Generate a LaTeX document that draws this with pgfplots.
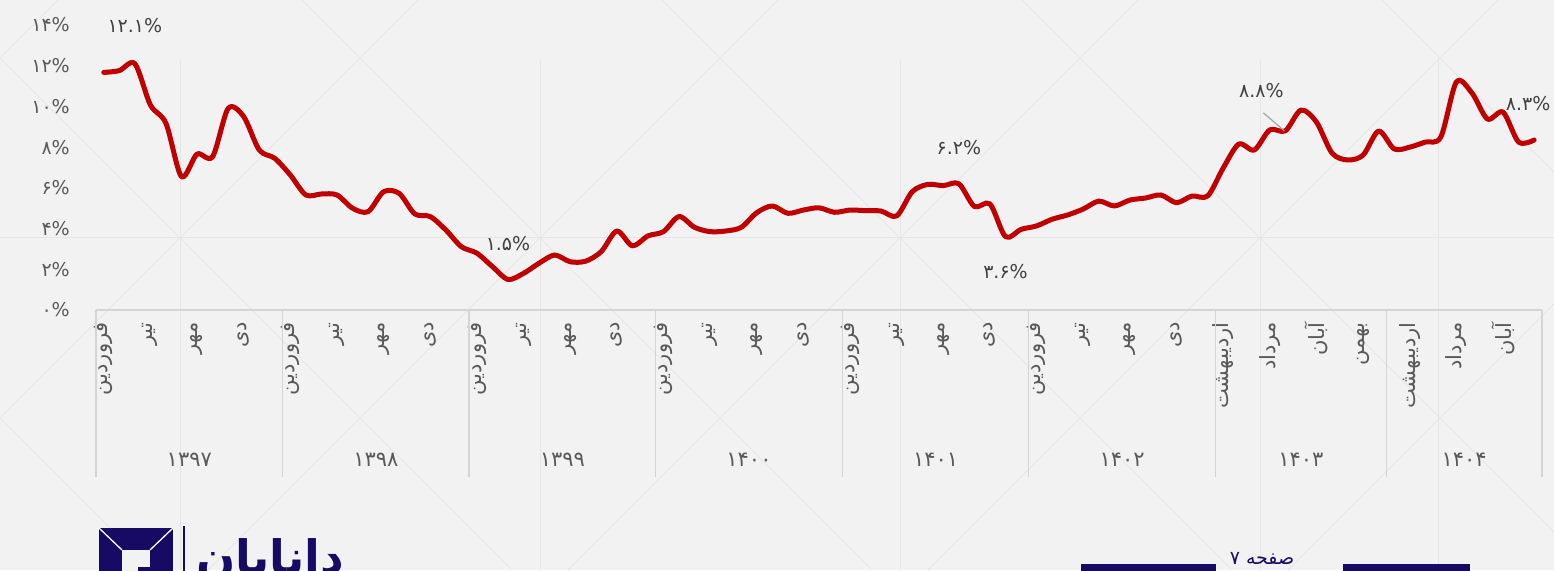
\documentclass[border=0pt]{standalone}
\usepackage{fontspec}
\usepackage{pgfplots}
\pgfplotsset{compat=1.18}
\setmainfont{DejaVu Sans}
\newfontfamily\fa[Script=Arabic]{DejaVu Sans}
\TeXXeTstate=1
\definecolor{bg}{HTML}{F2F2F2}
\definecolor{deco}{HTML}{E6E6E6}
\definecolor{redline}{HTML}{C00000}
\definecolor{navy}{HTML}{160A64}
\definecolor{tickc}{HTML}{595959}
\definecolor{labc}{HTML}{404040}
\definecolor{sepc}{HTML}{D4D4D4}
\newcommand\fs[1]{\fontsize{#1}{#1}\selectfont}
\newcommand\R[1]{\beginR #1\endR}
\begin{document}
\begin{tikzpicture}
\useasboundingbox (0,0) rectangle (1554pt,570pt);
\clip (0,0) rectangle (1554pt,570pt);
\fill[bg] (0,0) rectangle (1554pt,570pt);
\begin{scope}[shift={(0pt,570pt)},x=1pt,y=-1pt]
  \draw[deco, line width=1pt] (0,238) -- (1554,238);
  \foreach \c in {-778,-418,-58,302,662,1022,1382} \draw[deco, line width=1pt] (\c,0) -- ++(570,570);
  \foreach \d in {58,418,778,1138,1498,1858,2218} \draw[deco, line width=1pt] (\d,0) -- ++(-570,570);
  \foreach \v in {180,540,900,1260,1438} \draw[deco, line width=1pt] (\v,60) -- (\v,570);
  % logo
  \fill[navy] (99,528) rectangle (173,572);
  \fill[bg] (122,550) rectangle (150,572);
  \draw[white, line width=1.3pt] (99,528) -- (122,550);
  \draw[white, line width=1.3pt] (173,528) -- (150,550);
  \fill[navy] (138,567) rectangle (163,572);
  \fill[navy] (183.2,526) rectangle (185,572);
  \node[anchor=base west, inner sep=0pt, text=navy, font=\fa\bfseries\fs{46}] at (196,573) {\R{دانایان}};
  % page footer
  \fill[navy] (1081,564) rectangle (1216,572);
  \fill[navy] (1343,564) rectangle (1470,572);
  \node[anchor=base, inner sep=0pt, text=navy, font=\fa\fs{19}] at (1262,564) {\R{صفحه ۷}};
\end{scope}
\begin{axis}[
  at={(96pt,260pt)}, anchor=south west,
  scale only axis, width=1446pt, height=285pt,
  xmin=-0.5, xmax=92.5, ymin=0, ymax=14,
  clip=false,
  axis line style={draw=none},
  tick style={draw=none},
  major tick length=0pt,
  ytick={0,2,...,14},
  yticklabels={۰\%,۲\%,۴\%,۶\%,۸\%,۱۰\%,۱۲\%,۱۴\%},
  yticklabel style={font=\fa\fs{19}, text=tickc, inner sep=0pt, anchor=east},
  yticklabel shift=26pt,
  xtick={0,3,...,90},
  xticklabels={\R{فروردین},\R{تیر},\R{مهر},\R{دی},
               \R{فروردین},\R{تیر},\R{مهر},\R{دی},
               \R{فروردین},\R{تیر},\R{مهر},\R{دی},
               \R{فروردین},\R{تیر},\R{مهر},\R{دی},
               \R{فروردین},\R{تیر},\R{مهر},\R{دی},
               \R{فروردین},\R{تیر},\R{مهر},\R{دی},
               \R{اردیبهشت},\R{مرداد},\R{آبان},\R{بهمن},
               \R{اردیبهشت},\R{مرداد},\R{آبان}},
  xticklabel style={font=\fa\fs{21}, text=tickc, inner sep=0pt, rotate=90, anchor=east},
  xticklabel shift=12pt,
]
% category axis frame
\draw[sepc, line width=1.3pt] (axis cs:-0.5,0) -- (axis cs:92.5,0);
\draw[sepc, line width=1.3pt] (axis cs:-0.5,0) -- ++(0pt,-167pt);
\draw[sepc, line width=1.3pt] (axis cs:11.5,0) -- ++(0pt,-167pt);
\draw[sepc, line width=1.3pt] (axis cs:23.5,0) -- ++(0pt,-167pt);
\draw[sepc, line width=1.3pt] (axis cs:35.5,0) -- ++(0pt,-167pt);
\draw[sepc, line width=1.3pt] (axis cs:47.5,0) -- ++(0pt,-167pt);
\draw[sepc, line width=1.3pt] (axis cs:59.5,0) -- ++(0pt,-167pt);
\draw[sepc, line width=1.3pt] (axis cs:71.5,0) -- ++(0pt,-167pt);
\draw[sepc, line width=1.3pt] (axis cs:82.5,0) -- ++(0pt,-167pt);
\draw[sepc, line width=1.3pt] (axis cs:92.5,0) -- ++(0pt,-167pt);
% year labels
\node[font=\fa\fs{21}, text=tickc, yshift=-150pt] at (axis cs:5.5,0) {۱۳۹۷};
\node[font=\fa\fs{21}, text=tickc, yshift=-150pt] at (axis cs:17.5,0) {۱۳۹۸};
\node[font=\fa\fs{21}, text=tickc, yshift=-150pt] at (axis cs:29.5,0) {۱۳۹۹};
\node[font=\fa\fs{21}, text=tickc, yshift=-150pt] at (axis cs:41.5,0) {۱۴۰۰};
\node[font=\fa\fs{21}, text=tickc, yshift=-150pt] at (axis cs:53.5,0) {۱۴۰۱};
\node[font=\fa\fs{21}, text=tickc, yshift=-150pt] at (axis cs:65.5,0) {۱۴۰۲};
\node[font=\fa\fs{21}, text=tickc, yshift=-150pt] at (axis cs:77,0) {۱۴۰۳};
\node[font=\fa\fs{21}, text=tickc, yshift=-150pt] at (axis cs:87.5,0) {۱۴۰۴};
% series
\addplot[redline, line width=5pt, smooth, line cap=round, line join=round] coordinates {
(0,11.67) (1,11.76) (2,12.1) (3,10.07) (4,9.17) (5,6.55) (6,7.66) (7,7.53) (8,9.9) (9,9.5)
(10,7.86) (11,7.45) (12,6.63) (13,5.65) (14,5.7) (15,5.65) (16,5.0) (17,4.83) (18,5.81) (19,5.73)
(20,4.72) (21,4.59) (22,3.93) (23,3.11) (24,2.79) (25,2.13) (26,1.5) (27,1.8) (28,2.3) (29,2.7)
(30,2.37) (31,2.4) (32,2.87) (33,3.88) (34,3.15) (35,3.64) (36,3.85) (37,4.59) (38,4.06) (39,3.85)
(40,3.88) (41,4.06) (42,4.78) (43,5.11) (44,4.75) (45,4.91) (46,5.02) (47,4.8) (48,4.91) (49,4.88)
(50,4.86) (51,4.62) (52,5.81) (53,6.17) (54,6.11) (55,6.2) (56,5.08) (57,5.21) (58,3.6) (59,3.96)
(60,4.13) (61,4.46) (62,4.67) (63,4.96) (64,5.35) (65,5.11) (66,5.4) (67,5.5) (68,5.65) (69,5.27)
(70,5.6) (71,5.6) (72,6.97) (73,8.15) (74,7.86) (75,8.85) (76,8.8) (77,9.82) (78,9.23) (79,7.71)
(80,7.37) (81,7.61) (82,8.79) (83,7.91) (84,8.0) (85,8.25) (86,8.5) (87,11.2) (88,10.66) (89,9.38)
(90,9.72) (91,8.25) (92,8.35)
};
% data labels
\node[font=\fa\fs{19}, text=labc, yshift=38pt] at (axis cs:2,12.1) {۱۲.۱\%};
\node[font=\fa\fs{19}, text=labc, yshift=36pt] at (axis cs:26,1.5) {۱.۵\%};
\node[font=\fa\fs{19}, text=labc, yshift=36pt] at (axis cs:55,6.2) {۶.۲\%};
\node[font=\fa\fs{19}, text=labc, yshift=-35pt] at (axis cs:58,3.6) {۳.۶\%};
\draw[gray!70, line width=1.2pt] (axis cs:76,8.8) ++(-1pt,0pt) -- ++(-21pt,18pt);
\node[font=\fa\fs{19}, text=labc, xshift=-24pt, yshift=40pt] at (axis cs:76,8.8) {۸.۸\%};
\node[font=\fa\fs{19}, text=labc, xshift=-6pt, yshift=36pt] at (axis cs:92,8.35) {۸.۳\%};
\end{axis}
\end{tikzpicture}
\end{document}
